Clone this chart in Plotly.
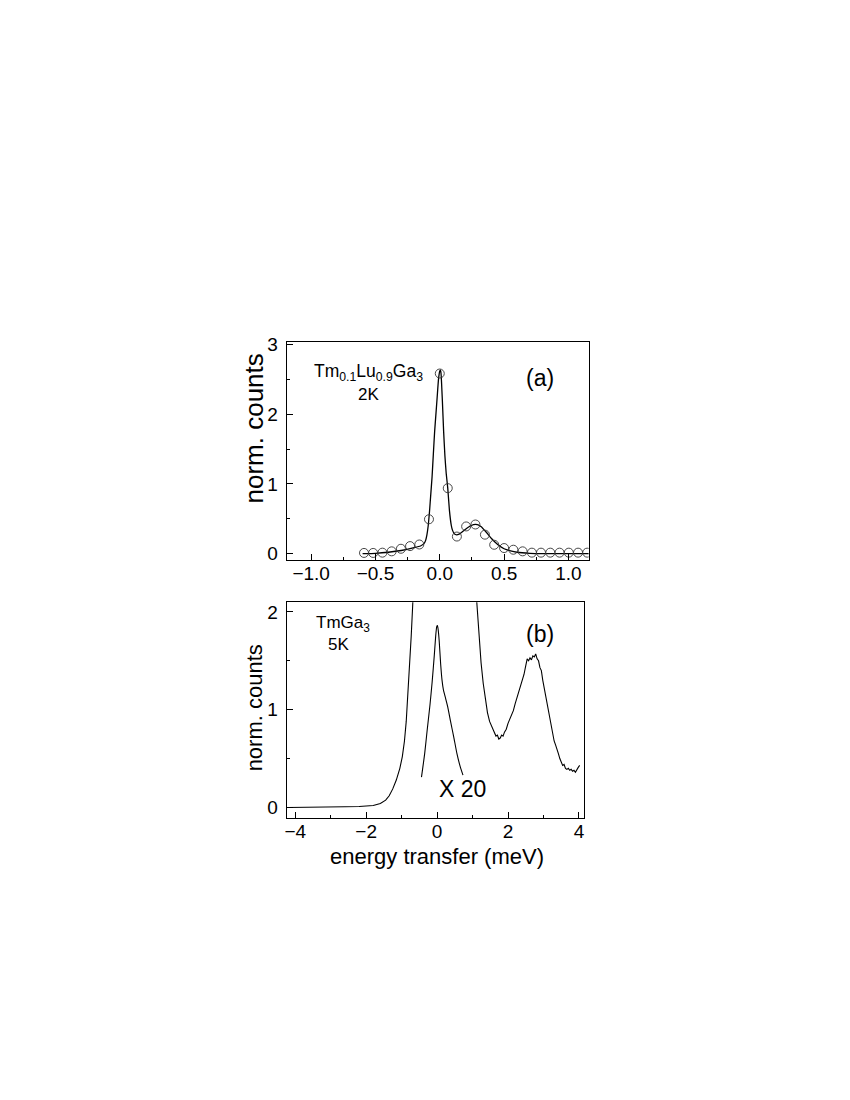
import plotly.graph_objects as go

# ---- panel (a): Tm0.1Lu0.9Ga3, 2K ----
a_pts_x = [-0.589, -0.518, -0.446, -0.374, -0.302, -0.231, -0.159, -0.084, 0.0, 0.062,
           0.133, 0.205, 0.277, 0.351, 0.423, 0.500, 0.572, 0.644, 0.716, 0.787,
           0.859, 0.931, 1.003, 1.075, 1.146]
a_pts_y = [0.01, 0.01, 0.014, 0.033, 0.07, 0.108, 0.131, 0.493, 2.583, 0.939,
           0.245, 0.39, 0.418, 0.272, 0.127, 0.08, 0.056, 0.033, 0.014, 0.014,
           0.014, 0.014, 0.014, 0.014, 0.014]

a_fit_x = [-0.6, -0.5, -0.4, -0.3, -0.2, -0.15, -0.12, -0.11, -0.1, -0.09, -0.08, -0.07,
           -0.06, -0.05, -0.04, -0.03, -0.02, -0.01, 0.0, 0.005, 0.01, 0.02, 0.03, 0.04,
           0.05, 0.062, 0.075, 0.09, 0.1, 0.115, 0.13, 0.15, 0.2, 0.24, 0.28, 0.32, 0.36,
           0.4, 0.45, 0.5, 0.55, 0.6, 0.7, 0.8, 1.0, 1.2]
a_fit_y = [0.0, 0.005, 0.02, 0.045, 0.085, 0.11, 0.15, 0.19, 0.27, 0.4, 0.6, 0.85,
           1.1, 1.43, 1.75, 2.0, 2.25, 2.5, 2.62, 2.63, 2.58, 2.2, 1.75, 1.4,
           1.15, 0.94, 0.62, 0.40, 0.33, 0.28, 0.27, 0.28, 0.35, 0.40, 0.42, 0.39, 0.31,
           0.22, 0.13, 0.07, 0.04, 0.02, 0.005, 0.0, 0.0, 0.0]

# ---- panel (b): TmGa3, 5K ----
b_main_x = [-4.2, -3.8, -3.4, -3.0, -2.6, -2.2, -2.0, -1.8, -1.6, -1.45, -1.35, -1.25,
            -1.15, -1.05, -0.98, -0.92, -0.87, -0.82, -0.77, -0.73, -0.69, -0.66, None,
            1.08, 1.12, 1.18, 1.24, 1.30, 1.36, 1.42, 1.48, 1.54, 1.60, 1.66, 1.70, 1.74,
            1.78, 1.82, 1.86, 1.90, 1.95, 2.00, 2.05, 2.10, 2.15, 2.20, 2.25, 2.30, 2.35,
            2.40, 2.45, 2.50, 2.54, 2.58, 2.62, 2.66, 2.70, 2.74, 2.78, 2.82, 2.86, 2.90,
            2.94, 2.98, 3.02, 3.06, 3.10, 3.14, 3.18, 3.22, 3.26, 3.30, 3.34, 3.38, 3.42,
            3.46, 3.50, 3.54, 3.58, 3.62, 3.66, 3.70, 3.74, 3.78, 3.82, 3.86, 3.90, 3.94,
            3.98, 4.02]
b_main_y = [0.0, 0.0, 0.003, 0.005, 0.007, 0.01, 0.012, 0.02, 0.04, 0.075, 0.12, 0.19,
            0.28, 0.40, 0.52, 0.68, 0.88, 1.15, 1.48, 1.75, 2.05, 2.3, None,
            2.3, 2.1, 1.75, 1.48, 1.27, 1.10, 0.97, 0.88, 0.82, 0.78, 0.73, 0.74, 0.70,
            0.71, 0.74, 0.73, 0.77, 0.80, 0.86, 0.90, 0.95, 0.99, 1.06, 1.12, 1.17, 1.24,
            1.30, 1.36, 1.45, 1.52, 1.50, 1.53, 1.51, 1.55, 1.54, 1.57, 1.52, 1.50, 1.43,
            1.40, 1.30, 1.22, 1.14, 1.06, 0.98, 0.90, 0.84, 0.75, 0.68, 0.64, 0.58, 0.55,
            0.50, 0.47, 0.43, 0.44, 0.40, 0.39, 0.40, 0.38, 0.39, 0.37, 0.38, 0.36, 0.39,
            0.41, 0.43]

b_peak_x = [-0.44, -0.35, -0.28, -0.2, -0.14, -0.08, -0.04, -0.01, 0.01, 0.03, 0.06,
            0.1, 0.14, 0.18, 0.23, 0.3, 0.38, 0.47, 0.56, 0.65, 0.73]
b_peak_y = [0.31, 0.55, 0.79, 1.05, 1.28, 1.55, 1.75, 1.85, 1.86, 1.82, 1.7,
            1.47, 1.3, 1.2, 1.13, 1.03, 0.88, 0.72, 0.55, 0.42, 0.33]

FONT = "Liberation Sans, Arial, sans-serif"
# the page body has an 8px margin, so the figure is a bit smaller than the window
OFF = 8
W, H = 850 - 2 * OFF, 1100 - 2 * OFF

def px(x):
    return (x - OFF) / W

def py(y):
    return 1 - (y - OFF) / H

fig = go.Figure()

fig.add_trace(go.Scatter(x=a_fit_x, y=a_fit_y, mode='lines', showlegend=False,
                         line=dict(color='black', width=1.3, shape='spline', smoothing=0.4),
                         xaxis='x', yaxis='y'))
fig.add_trace(go.Scatter(x=a_pts_x, y=a_pts_y, mode='markers', showlegend=False,
                         marker=dict(symbol='circle-open', size=9, color='#333333',
                                     line=dict(width=0.9, color='#333333')),
                         xaxis='x', yaxis='y'))
fig.add_trace(go.Scatter(x=b_main_x, y=b_main_y, mode='lines', showlegend=False,
                         connectgaps=False, line=dict(color='black', width=1.1),
                         xaxis='x2', yaxis='y2'))
fig.add_trace(go.Scatter(x=b_peak_x, y=b_peak_y, mode='lines', showlegend=False,
                         line=dict(color='black', width=1.1, shape='spline', smoothing=0.5),
                         xaxis='x2', yaxis='y2'))

axis_style = dict(showgrid=False, zeroline=False, showline=True, linecolor='black',
                  linewidth=1, mirror=True, ticks='inside', ticklen=6, tickcolor='black',
                  tickfont=dict(family=FONT, size=19, color='black'))

fig.update_layout(
    width=W, height=H,
    plot_bgcolor='white', paper_bgcolor='white',
    margin=dict(l=0, r=0, t=0, b=0),
    font=dict(family=FONT, color='black'),
    xaxis=dict(axis_style, domain=[px(285.7), px(588.7)], anchor='y',
               range=[-1.19, 1.157], tickvals=[-1.0, -0.5, 0.0, 0.5, 1.0],
               tickformat='.1f', ticklabelstandoff=-4,
               minor=dict(dtick=0.25, ticks='inside', ticklen=3)),
    yaxis=dict(axis_style, domain=[py(558), py(338)], anchor='x',
               range=[-0.09, 3.03], tickvals=[0, 1, 2, 3], ticklabelstandoff=4,
               minor=dict(dtick=0.5, ticks='inside', ticklen=3)),
    xaxis2=dict(axis_style, domain=[px(285.7), px(584)], anchor='y2',
                range=[-4.24, 4.14], tickvals=[-4, -2, 0, 2, 4], ticklabelstandoff=-4,
                minor=dict(dtick=1, ticks='inside', ticklen=3)),
    yaxis2=dict(axis_style, domain=[py(818.7), py(600.7)], anchor='x2',
                range=[-0.105, 2.1], tickvals=[0, 1, 2], ticklabelstandoff=4,
                minor=dict(dtick=0.5, ticks='inside', ticklen=3)),
)

def label(text, x, y, ref, size, xanchor='center', angle=0):
    fig.add_annotation(text=text, x=x, y=y, xref=ref[0], yref=ref[1], showarrow=False,
                       xanchor=xanchor, yanchor='middle', textangle=angle,
                       font=dict(family=FONT, size=size, color='black'))

# panel (a) labels
label('Tm<sub>0.1</sub>Lu<sub>0.9</sub>Ga<sub>3</sub>', -0.99, 2.6, ('x', 'y'), 17.5, xanchor='left')
label('2K', -0.558, 2.28, ('x', 'y'), 17)
label('(a)', 0.778, 2.52, ('x', 'y'), 23)
label('norm. counts', px(253), py(425), ('paper', 'paper'), 26, angle=-90)

# panel (b) labels
label('TmGa<sub>3</sub>', -3.47, 1.88, ('x2', 'y2'), 17, xanchor='left')
label('5K', -2.79, 1.67, ('x2', 'y2'), 17)
label('(b)', 2.90, 1.77, ('x2', 'y2'), 23)
label('X 20', 0.725, 0.185, ('x2', 'y2'), 23)
label('norm. counts', px(253), py(708), ('paper', 'paper'), 22, angle=-90)
label('energy transfer (meV)', px(436.5), py(858), ('paper', 'paper'), 22)

fig.write_html("out.html")
